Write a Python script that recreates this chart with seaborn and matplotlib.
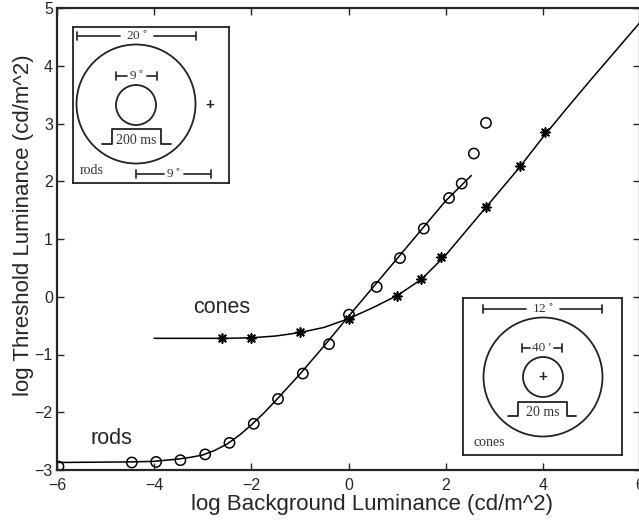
import matplotlib
matplotlib.use("Agg")
import matplotlib.pyplot as plt
import matplotlib.patches as mpatches
import seaborn as sns

# measured thresholds (log cd/m^2)
rods_x = [-5.97, -4.46, -3.96, -3.46, -2.95, -2.45, -1.95, -1.45, -0.94,
          -0.40, 0.01, 0.58, 1.06, 1.55, 2.07, 2.33, 2.58, 2.83]
rods_y = [-2.94, -2.87, -2.86, -2.83, -2.73, -2.53, -2.20, -1.77, -1.33,
          -0.82, -0.31, 0.17, 0.67, 1.18, 1.71, 1.96, 2.48, 3.01]
cones_x = [-2.61, -2.01, -1.00, 0.01, 0.99, 1.50, 1.91, 2.82, 3.53, 4.04]
cones_y = [-0.72, -0.72, -0.61, -0.39, 0.02, 0.30, 0.68, 1.55, 2.26, 2.86]

# fitted curves
rods_fit_x = [-6.0, -4.5, -4.0, -3.5, -3.25, -3.0, -2.75, -2.5, -2.25, -2.0,
              -1.75, -1.5, -1.0, -0.5, 0.0, 0.5, 1.0, 1.5, 2.0, 2.53]
rods_fit_y = [-2.87, -2.86, -2.85, -2.81, -2.78, -2.74, -2.66, -2.55, -2.40, -2.22,
              -2.02, -1.80, -1.34, -0.85, -0.34, 0.16, 0.66, 1.16, 1.66, 2.10]
cones_fit_x = [-4.0, -3.0, -2.5, -2.0, -1.5, -1.0, -0.5, 0.0, 0.5, 1.0,
               1.5, 2.0, 2.5, 3.0, 3.5, 4.0, 4.5, 5.0, 5.5, 6.0]
cones_fit_y = [-0.72, -0.72, -0.72, -0.71, -0.68, -0.62, -0.53, -0.38, -0.19, 0.02,
               0.30, 0.72, 1.22, 1.72, 2.22, 2.76, 3.27, 3.77, 4.26, 4.75]

x_ticks = [-6, -4, -2, 0, 2, 4, 6]
y_ticks = [-3, -2, -1, 0, 1, 2, 3, 4, 5]

sns.set_style("ticks")
plt.rcParams['font.family'] = ['Liberation Sans', 'DejaVu Sans']
plt.rcParams['axes.linewidth'] = 1.6

W, H = 639, 521
fig = plt.figure(figsize=(W / 100, H / 100), dpi=100)
ax = fig.add_axes([57 / W, (H - 470) / H, 583 / W, 462 / H])

sns.lineplot(x=rods_fit_x, y=rods_fit_y, ax=ax, color='black', lw=1.1, sort=False)
sns.lineplot(x=cones_fit_x, y=cones_fit_y, ax=ax, color='black', lw=1.1, sort=False)
sns.scatterplot(x=rods_x, y=rods_y, ax=ax, marker='o', s=55,
                facecolor='none', edgecolor='black', linewidth=1.1, zorder=3)
sns.scatterplot(x=cones_x, y=cones_y, ax=ax, marker=(8, 2, 0), s=42,
                color='black', linewidth=1.2, zorder=3)

ax.set_xlim(-6, 6)
ax.set_ylim(-3, 5)
ax.set_xticks(x_ticks)
ax.set_yticks(y_ticks)
ax.tick_params(direction='in', length=5, width=1, labelsize=11.5,
               top=True, right=True)
ax.tick_params(axis='x', pad=5.5)
ax.tick_params(axis='y', pad=3)
ax.set_xlabel('log Background Luminance (cd/m^2)', fontsize=16)
ax.set_ylabel('log Threshold Luminance (cd/m^2)', fontsize=16)
ax.xaxis.set_label_coords(0.54, -0.052)
ax.yaxis.set_label_coords(-0.04, 0.529)

ax.text(-2.6, -0.18, 'cones', fontsize=15.5, ha='center', va='center')
ax.text(-4.88, -2.46, 'rods', fontsize=15.5, ha='center', va='center')

serif = ['Liberation Serif', 'DejaVu Serif']
gray = '#333333'


def inset(x0, y0, w, h):
    a = fig.add_axes([x0 / W, 1 - (y0 + h) / H, w / W, h / H])
    a.set_xlim(0, w)
    a.set_ylim(h, 0)
    a.set_xticks([])
    a.set_yticks([])
    for s in a.spines.values():
        s.set_linewidth(1.3)
        s.set_color('#222222')
    a.patch.set_alpha(0)
    return a


def bar(a, x1, x2, y, label, gap):
    xm = (x1 + x2) / 2
    a.plot([x1, xm - gap], [y, y], color=gray, lw=1.3)
    a.plot([xm + gap, x2], [y, y], color=gray, lw=1.3)
    a.plot([x1, x1], [y - 4, y + 4], color=gray, lw=1.3)
    a.plot([x2, x2], [y - 4, y + 4], color=gray, lw=1.3)
    a.text(xm, y, label, ha='center', va='center', fontsize=9.5, color=gray,
           family=serif)


def pulse(a, xs, y0, y1, label, ly):
    a.plot([xs[0], xs[1], xs[1], xs[2], xs[2], xs[3]],
           [y0, y0, y1, y1, y0, y0], color='#222222', lw=1.3)
    a.text((xs[1] + xs[2]) / 2, ly, label, ha='center', va='center',
           fontsize=10, color=gray, family=serif)


# rods stimulus
a1 = inset(73, 27, 156, 156)
bar(a1, 4, 123, 9, '20$^\\circ$', 17)
a1.add_patch(mpatches.Circle((63, 77), 59.5, fill=False, lw=1.3, ec='#222222'))
a1.add_patch(mpatches.Circle((63, 78), 20, fill=False, lw=1.3, ec='#222222'))
bar(a1, 43, 84, 49, '9$^\\circ$', 10)
pulse(a1, [29, 39, 88, 98], 117, 102, '200 ms', 113)
a1.text(137, 78, '+', ha='center', va='center', fontsize=11, fontweight='bold',
        color='#222222')
a1.text(19, 144, 'rods', ha='center', va='center', fontsize=10, color=gray,
        family=serif)
bar(a1, 63, 138, 147, '9$^\\circ$', 10)

# cones stimulus
a2 = inset(463, 298, 159, 157)
bar(a2, 20, 139, 11, '12$^\\circ$', 17)
a2.add_patch(mpatches.Circle((80, 79), 59.5, fill=False, lw=1.3, ec='#222222'))
a2.add_patch(mpatches.Circle((80, 79), 20, fill=False, lw=1.3, ec='#222222'))
bar(a2, 59, 99, 50, "40 '", 12)
pulse(a2, [45, 55, 104, 113], 118, 104, '20 ms', 115)
a2.text(80, 79, '+', ha='center', va='center', fontsize=11, fontweight='bold',
        color='#222222')
a2.text(26, 144, 'cones', ha='center', va='center', fontsize=10, color=gray,
        family=serif)

fig.savefig('out.png', dpi=100)
